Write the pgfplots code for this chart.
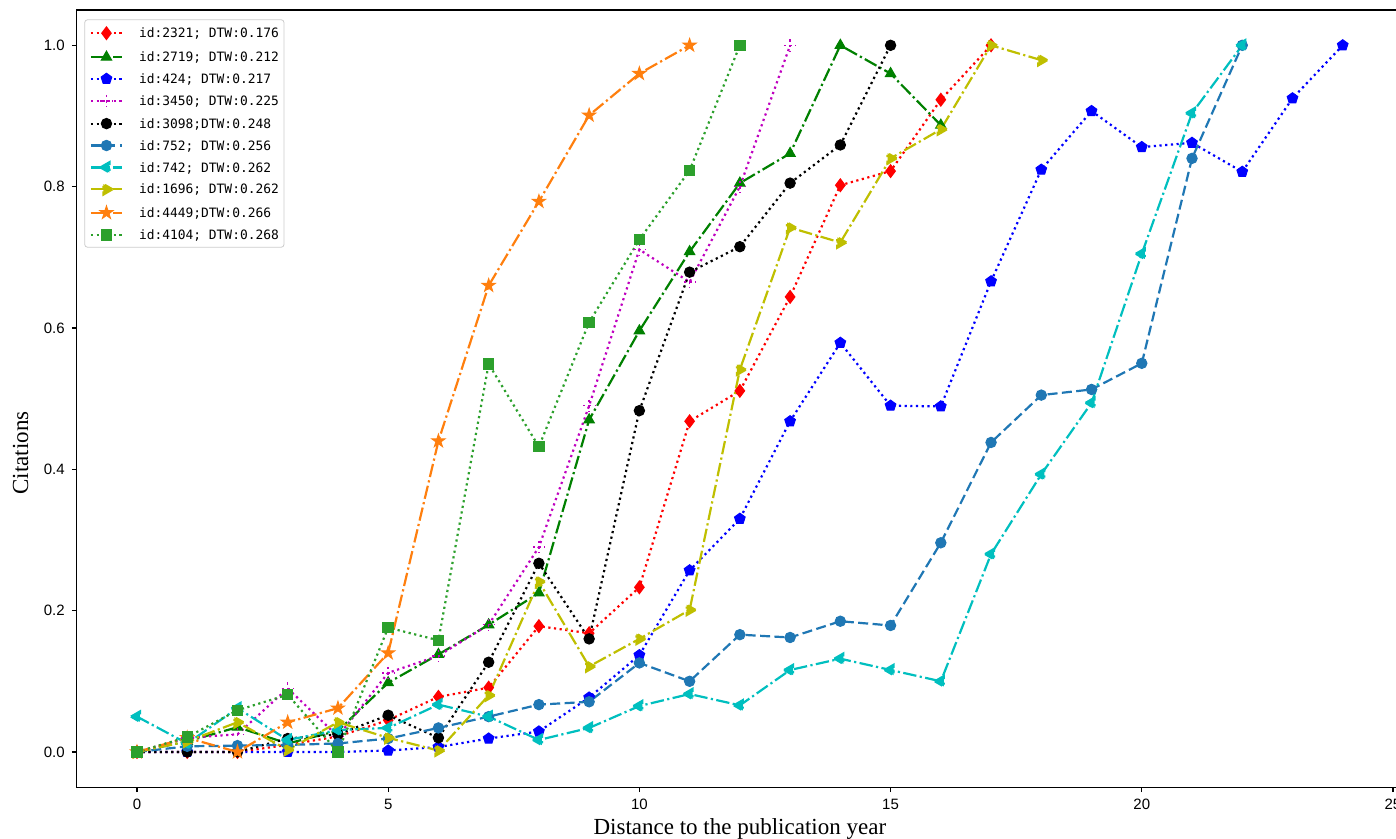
\documentclass[border=0pt]{standalone}
\usepackage{fontspec}
\usepackage{pgfplots}
\pgfplotsset{compat=1.18}
\setmainfont{Liberation Serif}
\newfontfamily\tickfont{Liberation Sans}
\newfontfamily\legfont{DejaVu Sans Mono}

\definecolor{mred}{HTML}{FF0000}
\definecolor{mgreen}{HTML}{008000}
\definecolor{mblue}{HTML}{0000FF}
\definecolor{mmagenta}{HTML}{BF00BF}
\definecolor{mcyan}{HTML}{00BFBF}
\definecolor{molive}{HTML}{BFBF00}
\definecolor{tabblue}{HTML}{1F77B4}
\definecolor{taborange}{HTML}{FF7F0E}
\definecolor{tabgreen}{HTML}{2CA02C}

% filled five-pointed star
\pgfdeclareplotmark{fstar}{%
  \pgfpathmoveto{\pgfpointpolar{90}{\pgfplotmarksize}}%
  \pgfpathlineto{\pgfpointpolar{126}{0.382\pgfplotmarksize}}%
  \pgfpathlineto{\pgfpointpolar{162}{\pgfplotmarksize}}%
  \pgfpathlineto{\pgfpointpolar{198}{0.382\pgfplotmarksize}}%
  \pgfpathlineto{\pgfpointpolar{234}{\pgfplotmarksize}}%
  \pgfpathlineto{\pgfpointpolar{270}{0.382\pgfplotmarksize}}%
  \pgfpathlineto{\pgfpointpolar{306}{\pgfplotmarksize}}%
  \pgfpathlineto{\pgfpointpolar{342}{0.382\pgfplotmarksize}}%
  \pgfpathlineto{\pgfpointpolar{18}{\pgfplotmarksize}}%
  \pgfpathlineto{\pgfpointpolar{54}{0.382\pgfplotmarksize}}%
  \pgfpathclose
  \pgfusepathqfillstroke}

\pgfplotsset{
  dotmpl/.style={dash pattern=on 1.1pt off 1.75pt},
  dashmpl/.style={dash pattern=on 5pt off 2.2pt},
  dashdotmpl/.style={dash pattern=on 6.7pt off 1.7pt on 1.1pt off 1.7pt},
  series/.style={color=#1, line width=1.1pt, line cap=butt,
    mark options={solid, fill=#1, draw=#1, line width=0.5pt}},
}

\begin{document}
\begin{tikzpicture}
\begin{axis}[
  at={(0,0)}, anchor=south west,
  scale only axis,
  width=663.15pt, height=388.65pt,
  xmin=-1.2, xmax=25.2, ymin=-0.05, ymax=1.05,
  xtick={0,5,10,15,20,25},
  ytick={0,0.2,0.4,0.6,0.8,1.0},
  yticklabel style={/pgf/number format/fixed, /pgf/number format/fixed zerofill, /pgf/number format/precision=1},
  /pgf/number format/assume math mode=true,
  tick label style={font=\tickfont\fontsize{7.5}{9}\selectfont},
  tick pos=left, tick align=outside, major tick length=2.45pt,
  axis line style={line width=0.6pt},
  every tick/.style={black, line width=0.6pt},
  xlabel={Distance to the publication year},
  ylabel={Citations},
  label style={font=\fontsize{11.5}{13}\selectfont},
  xlabel style={at={(axis description cs:0.5,-0.0601)}, anchor=base},
  ylabel style={at={(axis description cs:-0.0367,0.43)}, anchor=base},
  legend cell align=left,
  legend image code/.code={\draw[mark repeat=2,mark phase=2] plot coordinates {(0pt,0pt) (7.75pt,0pt) (15.5pt,0pt)};},
  legend style={at={(0.0057,0.988)}, anchor=north west,
    draw=black!20, rounded corners=1.5pt, fill=white,
    font=\legfont\fontsize{6.45}{7}\selectfont,
    inner xsep=2.6pt, inner ysep=3.55pt, row sep=5.75pt, column sep=8pt,
    nodes={inner sep=0pt, text height=4.6pt, text depth=0pt}},
]

% id:2321
\addplot[series=mred, dotmpl, mark=diamond*, mark size=3.2pt] coordinates {
 (0,0) (1,0) (2,0) (3,0.01) (4,0.022) (5,0.045) (6,0.078) (7,0.091) (8,0.178)
 (9,0.168) (10,0.233) (11,0.468) (12,0.511) (13,0.644) (14,0.802) (15,0.822)
 (16,0.923) (17,1.0)};
\addlegendentry{id:2321; DTW:0.176}

% id:2719
\addplot[series=mgreen, dashdotmpl, mark=triangle*, mark size=3pt] coordinates {
 (0,0) (1,0.015) (2,0.035) (3,0.012) (4,0.03) (5,0.098) (6,0.138) (7,0.18)
 (8,0.225) (9,0.47) (10,0.596) (11,0.708) (12,0.805) (13,0.847) (14,1.0)
 (15,0.96) (16,0.887)};
\addlegendentry{id:2719; DTW:0.212}

% id:424
\addplot[series=mblue, dotmpl, mark=pentagon*, mark size=2.8pt] coordinates {
 (0,0) (1,0) (2,0) (3,0) (4,0) (5,0.002) (6,0.007) (7,0.019) (8,0.029)
 (9,0.077) (10,0.137) (11,0.257) (12,0.33) (13,0.468) (14,0.579) (15,0.49)
 (16,0.489) (17,0.666) (18,0.824) (19,0.907) (20,0.856) (21,0.862) (22,0.821)
 (23,0.925) (24,1.0)};
\addlegendentry{id:424; DTW:0.217}

% id:3450
\addplot[series=mmagenta, dotmpl, mark=+, mark size=3pt, mark options={line width=0.7pt}] coordinates {
 (0,0) (1,0.02) (2,0.025) (3,0.09) (4,0.022) (5,0.112) (6,0.136) (7,0.18)
 (8,0.29) (9,0.49) (10,0.711) (11,0.665) (12,0.80) (13,1.0)};
\addlegendentry{id:3450; DTW:0.225}

% id:3098
\addplot[series=black, dotmpl, mark=*, mark size=2.6pt] coordinates {
 (0,0) (1,0) (2,0) (3,0.019) (4,0.025) (5,0.052) (6,0.02) (7,0.127) (8,0.267)
 (9,0.16) (10,0.483) (11,0.679) (12,0.715) (13,0.805) (14,0.859) (15,1.0)};
\addlegendentry{id:3098;DTW:0.248}

% id:752
\addplot[series=tabblue, dashmpl, mark=*, mark size=2.6pt] coordinates {
 (0,0) (1,0.008) (2,0.009) (3,0.01) (4,0.012) (5,0.019) (6,0.034) (7,0.05)
 (8,0.067) (9,0.071) (10,0.126) (11,0.1) (12,0.166) (13,0.162) (14,0.185)
 (15,0.179) (16,0.296) (17,0.438) (18,0.505) (19,0.513) (20,0.55) (21,0.84)
 (22,1.0)};
\addlegendentry{id:752; DTW:0.256}

% id:742
\addplot[series=mcyan, dashdotmpl, mark=triangle*, mark size=3pt, mark options={rotate=90}] coordinates {
 (0,0.05) (1,0.012) (2,0.062) (3,0.017) (4,0.031) (5,0.034) (6,0.067) (7,0.05)
 (8,0.017) (9,0.034) (10,0.065) (11,0.082) (12,0.066) (13,0.116) (14,0.132)
 (15,0.116) (16,0.1) (17,0.28) (18,0.393) (19,0.494) (20,0.705) (21,0.904)
 (22,1.0)};
\addlegendentry{id:742; DTW:0.262}

% id:1696
\addplot[series=molive, dashdotmpl, mark=triangle*, mark size=3pt, mark options={rotate=-90}] coordinates {
 (0,0) (1,0.015) (2,0.042) (3,0.003) (4,0.042) (5,0.02) (6,0.002) (7,0.08)
 (8,0.241) (9,0.121) (10,0.16) (11,0.201) (12,0.541) (13,0.742) (14,0.721)
 (15,0.84) (16,0.881) (17,1.0) (18,0.979)};
\addlegendentry{id:1696; DTW:0.262}

% id:4449
\addplot[series=taborange, dashdotmpl, mark=fstar, mark size=3.4pt] coordinates {
 (0,0) (1,0.02) (2,0) (3,0.042) (4,0.062) (5,0.14) (6,0.44) (7,0.66)
 (8,0.779) (9,0.901) (10,0.96) (11,1.0)};
\addlegendentry{id:4449;DTW:0.266}

% id:4104
\addplot[series=tabgreen, dotmpl, mark=square*, mark size=2.6pt] coordinates {
 (0,0) (1,0.021) (2,0.059) (3,0.081) (4,0) (5,0.176) (6,0.158) (7,0.549)
 (8,0.432) (9,0.608) (10,0.725) (11,0.823) (12,1.0)};
\addlegendentry{id:4104; DTW:0.268}

\end{axis}
\pgfresetboundingbox
\path[use as bounding box] (-38.35pt,-25.85pt) rectangle (659.65pt,393.65pt);
\end{tikzpicture}
\end{document}
